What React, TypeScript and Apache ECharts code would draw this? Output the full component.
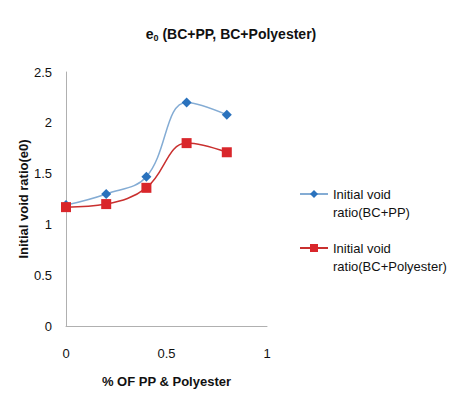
import React, { useEffect, useRef } from "react";
import * as echarts from "echarts";

const xValues = [0, 0.2, 0.4, 0.6, 0.8];
const ppValues = [1.19, 1.3, 1.47, 2.2, 2.08];
const polyValues = [1.17, 1.2, 1.36, 1.8, 1.71];
const seriesNames = ["Initial void\nratio(BC+PP)", "Initial void\nratio(BC+Polyester)"];

const FONT = "'Liberation Sans Narrow', 'Liberation Sans', Arial, sans-serif";

export default function App() {
  const ref = useRef<HTMLDivElement>(null);
  useEffect(() => {
    const chart = echarts.init(ref.current!, null, { renderer: "svg" });
    chart.setOption({
      animation: false,
      backgroundColor: "#ffffff",
      title: {
        text: "{b|e}{s|0}{b| (BC+PP, BC+Polyester)}",
        left: 226,
        top: 20,
        textAlign: "center",
        textStyle: {
          rich: {
            b: { fontFamily: FONT, fontSize: 14, fontWeight: "bold", color: "#111" },
            s: { fontFamily: FONT, fontSize: 9, fontWeight: "bold", color: "#111", verticalAlign: "bottom", padding: [8, 0, 0, 0] },
          },
        },
      },
      grid: { left: 66, right: 192, top: 72, bottom: 67 },
      xAxis: {
        type: "value",
        min: 0,
        max: 1,
        interval: 0.5,
        name: "% OF PP & Polyester",
        nameLocation: "middle",
        nameGap: 49,
        nameTextStyle: { fontFamily: FONT, fontSize: 13, fontWeight: "bold", color: "#111" },
        axisLine: { show: true, lineStyle: { color: "#b0b0b0" } },
        axisTick: { show: false },
        splitLine: { show: false },
        axisLabel: { fontFamily: FONT, fontSize: 13, color: "#111", margin: 21 },
      },
      yAxis: {
        type: "value",
        min: 0,
        max: 2.5,
        interval: 0.5,
        name: "Initial void ratio(e0)",
        nameLocation: "middle",
        nameGap: 32,
        nameTextStyle: { fontFamily: FONT, fontSize: 13, fontWeight: "bold", color: "#111" },
        axisLine: { show: true, lineStyle: { color: "#b0b0b0" } },
        axisTick: { show: false },
        splitLine: { show: false },
        axisLabel: { fontFamily: FONT, fontSize: 13, color: "#111", margin: 14 },
      },
      legend: {
        orient: "vertical",
        left: 294,
        top: 162,
        itemWidth: 28,
        itemHeight: 10,
        itemGap: 0,
        formatter: (name: string) => "\n" + name,
        textStyle: {
          fontFamily: FONT,
          fontSize: 13,
          color: "#111",
          lineHeight: 18,
        },
        data: seriesNames,
      },
      series: [
        {
          name: seriesNames[0],
          type: "line",
          smooth: 0.4,
          data: xValues.map((x, i) => [x, ppValues[i]]),
          symbol: "diamond",
          symbolSize: 10,
          lineStyle: { color: "#84acd4", width: 1.5 },
          itemStyle: { color: "#2a72bd" },
        },
        {
          name: seriesNames[1],
          type: "line",
          smooth: 0.4,
          data: xValues.map((x, i) => [x, polyValues[i]]),
          symbol: "rect",
          symbolSize: 10,
          lineStyle: { color: "#c9302f", width: 1.5 },
          itemStyle: { color: "#d9262b" },
        },
      ],
    });
    return () => chart.dispose();
  }, []);
  return <div ref={ref} style={{ width: 459, height: 393, position: "absolute", left: 0, top: 0 }} />;
}
